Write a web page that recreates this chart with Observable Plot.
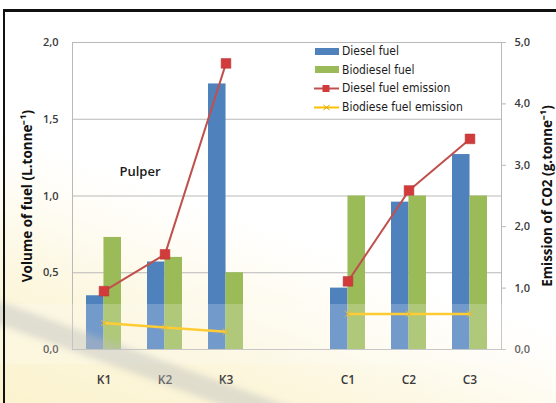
<!DOCTYPE html>
<html>
<head>
<meta charset="utf-8">
<script src="https://cdn.jsdelivr.net/npm/d3@7"></script>
<script src="https://cdn.jsdelivr.net/npm/@observablehq/plot@0.6"></script>
<style>
  html, body { margin: 0; padding: 0; background: #fff; }
  #wrap {
    position: relative; width: 556px; height: 403px; overflow: hidden;
    background: linear-gradient(20deg, #fbf3cf 0%, #fcf6dc 20%, #fefbef 32%, #ffffff 45%);
  }
  #wrap svg { position: absolute; left: 0; top: 0; }
  .haze { position: absolute; pointer-events: none; }
  #band { left: 0; top: 304px; width: 556px; height: 60px; background: rgba(255,255,255,0.2); }
  #streak {
    left: -20px; top: 302px; width: 380px; height: 22px;
    transform: rotate(20deg); transform-origin: 20px 50%;
    background: rgba(190,190,190,0.45); filter: blur(3px);
  }
  #border { position: absolute; left: 3px; top: 9px; width: 700px; height: 500px;
    border-left: 2px solid #111; border-top: 3px solid #111; pointer-events: none; }
  #legend { position: absolute; left: 314px; top: 42px;
    font: 12px "DejaVu Sans Condensed", "DejaVu Sans", sans-serif; color: #1b1b1b; }
  #legend .row { display: flex; align-items: center; height: 18.6px; }
  #legend svg { position: static; margin-right: 2px; }
</style>
</head>
<body>
<div id="wrap"></div>
<script>
// Mill sites: K = pulper line, C = second group
const categories = ["K1", "K2", "K3", "C1", "C2", "C3"];
const groups = ["K", "K", "K", "C", "C", "C"];

// Fuel volume, L per tonne (left axis)
const dieselFuel = [0.35, 0.57, 1.73, 0.40, 0.96, 1.27];
const biodieselFuel = [0.73, 0.60, 0.50, 1.00, 1.00, 1.00];

// CO2 emission, g per tonne (right axis)
const dieselEmission = [0.95, 1.55, 4.66, 1.11, 2.59, 3.43];
const biodieselEmission = [0.43, 0.36, 0.29, 0.58, 0.58, 0.58];

const leftTicks = [0, 0.5, 1.0, 1.5, 2.0];
const rightTicks = [0, 1, 2, 3, 4, 5];
const annotation = "Pulper";

const seriesNames = ["Diesel fuel", "Biodiesel fuel", "Diesel fuel emission", "Biodiese fuel emission"];
const colors = { diesel: "#4f81bd", bio: "#9bbb59", dieselLine: "#c0504d", dieselMark: "#d13b3b", bioLine: "#ffc000" };

// the right axis runs 0–5 alongside the left axis 0–2
const emissionScale = 5 / 2;

// an empty slot separates the two groups on the x axis
const spacer = " ";
const xDomain = [...categories.slice(0, 3), spacer, ...categories.slice(3)];

const rows = categories.map((c, i) => ({
  category: c, group: groups[i],
  diesel: dieselFuel[i], bio: biodieselFuel[i],
  dieselEm: dieselEmission[i] / emissionScale, bioEm: biodieselEmission[i] / emissionScale
}));

const comma = (v) => v.toFixed(1).replace(".", ",");

const W = 556, H = 403;
const mL = 72, mR = 55, mT = 42, mB = 54;
const padInner = 0.43;
const half = ((W - mL - mR) / xDomain.length) * (1 - padInner) / 2;

const chart = Plot.plot({
  width: W, height: H,
  marginLeft: mL, marginRight: mR, marginTop: mT, marginBottom: mB,
  style: { background: "transparent", fontFamily: "'Open Sans', sans-serif", fontSize: "11px", color: "#3a3a3a", overflow: "visible" },
  x: { domain: xDomain, paddingInner: padInner, paddingOuter: padInner / 2, axis: null },
  y: { domain: [0, 2], axis: null },
  marks: [
    Plot.ruleY(leftTicks.slice(1, -1), { stroke: "#b9b9b9", strokeWidth: 1 }),
    Plot.barY(rows, { x: "category", y: "diesel", fill: colors.diesel, insetRight: half }),
    Plot.barY(rows, { x: "category", y: "bio", fill: colors.bio, insetLeft: half }),
    Plot.frame({ stroke: "#b9b9b9" }),
    Plot.lineY(rows, { x: "category", y: "bioEm", z: "group", stroke: colors.bioLine, strokeWidth: 2.5 }),
    Plot.dot(rows, { x: "category", y: "bioEm", symbol: "times", stroke: "#e0a800", r: 3, strokeWidth: 1 }),
    Plot.lineY(rows, { x: "category", y: "dieselEm", z: "group", stroke: colors.dieselLine, strokeWidth: 2 }),
    Plot.dot(rows, { x: "category", y: "dieselEm", symbol: "square", fill: colors.dieselMark, stroke: "#b83434", strokeWidth: 0.5, r: 5.5 }),
    Plot.text([annotation], { x: () => "K1", y: () => 1.16, dx: 36, fontSize: 13, fontWeight: 600, fill: "#1a1a1a" }),
    Plot.axisX({ tickSize: 0, tickPadding: 26, fontSize: 12, fontWeight: 600, label: null }),
    Plot.axisY(leftTicks, {
      anchor: "left", tickFormat: comma, tickSize: 0, tickPadding: 14, fontWeight: 600,
      label: "Volume of fuel (L.tonne⁻¹)", labelAnchor: "center", labelArrow: "none", labelOffset: 50
    }),
    Plot.axisY(rightTicks.map((t) => t / emissionScale), {
      anchor: "right", tickFormat: (d) => comma(d * emissionScale), tickSize: 4, tickPadding: 9,
      stroke: "#b9b9b9", fontWeight: 600,
      label: "Emission of CO2 (g.tonne⁻¹)", labelAnchor: "center", labelArrow: "none", labelOffset: 50
    })
  ]
});

// axis titles: bold, black
d3.select(chart).selectAll('g[aria-label="y-axis label"] text')
  .attr("font-weight", "700").attr("font-size", "13.5px").attr("fill", "#111");

const wrap = document.getElementById("wrap");
wrap.appendChild(chart);

for (const id of ["band", "streak"]) {
  const d = document.createElement("div");
  d.className = "haze"; d.id = id; wrap.appendChild(d);
}
const border = document.createElement("div");
border.id = "border"; wrap.appendChild(border);

// legend
const legend = document.createElement("div");
legend.id = "legend";
const swatches = [
  `<rect x="1" y="3" width="24" height="7" fill="${colors.diesel}"/>`,
  `<rect x="1" y="3" width="24" height="7" fill="${colors.bio}"/>`,
  `<line x1="0" y1="6.5" x2="25" y2="6.5" stroke="${colors.dieselLine}" stroke-width="2"/><rect x="8.5" y="3" width="7" height="7" fill="${colors.dieselMark}"/>`,
  `<line x1="0" y1="6.5" x2="25" y2="6.5" stroke="${colors.bioLine}" stroke-width="2"/><path d="M9.5 4 L15.5 9 M15.5 4 L9.5 9" stroke="#d9a400" stroke-width="1"/>`
];
legend.innerHTML = seriesNames.map((n, i) =>
  `<div class="row"><svg width="26" height="13">${swatches[i]}</svg><span>${n}</span></div>`).join("");
wrap.appendChild(legend);
</script>
</body>
</html>
